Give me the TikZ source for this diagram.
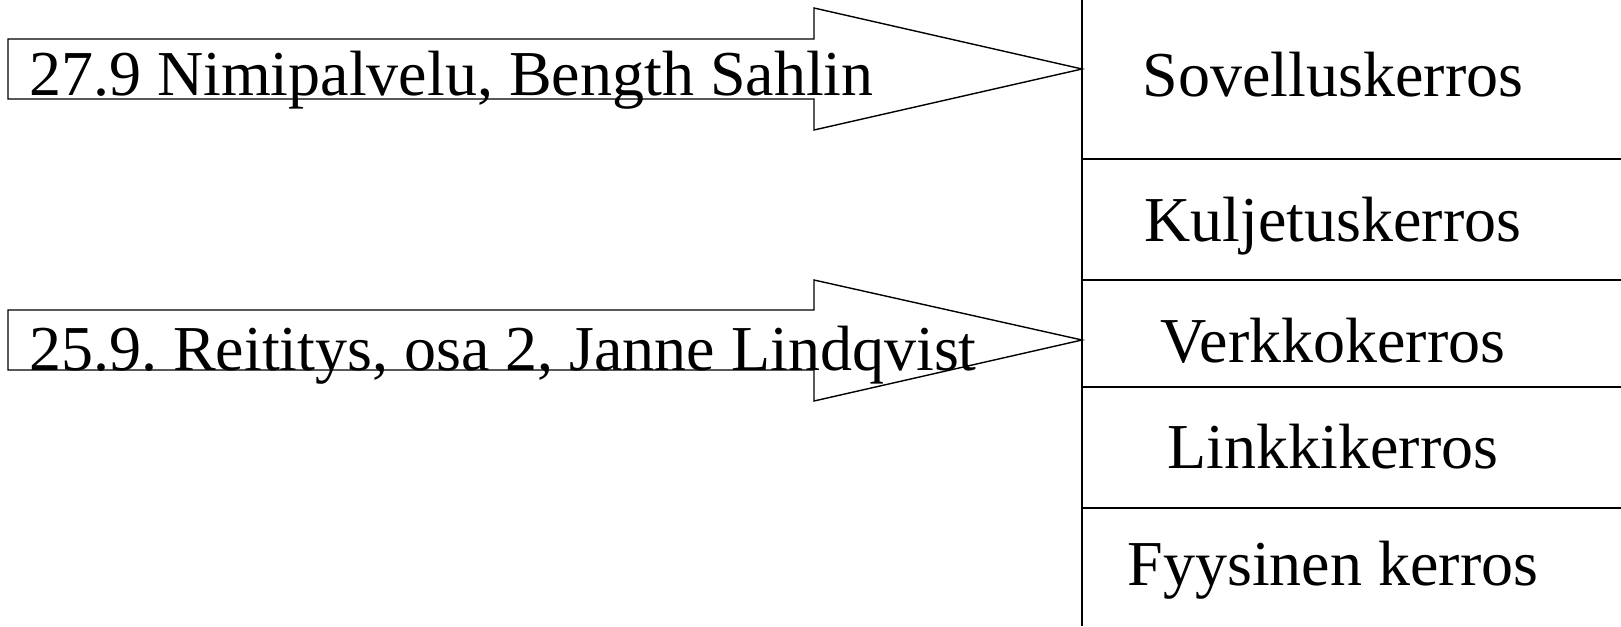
\documentclass[tikz,border=0pt]{standalone}
\usepackage{fontspec}
\setmainfont{Liberation Serif}
\frenchspacing
\begin{document}
\begin{tikzpicture}[x=1pt,y=-1pt,
  outline/.style={draw=black,line width=1.4pt},
  bigtext/.style={inner sep=0pt,font=\fontsize{64}{72}\selectfont},
  layertext/.style={bigtext,anchor=base},
  arrowtext/.style={bigtext,anchor=base west}]
\useasboundingbox (0,0) rectangle (1621,626);

% protocol stack: left border and layer separators
\coordinate (stacktop) at (1082,0);
\coordinate (stackbot) at (1082,626);
\draw[outline] (stacktop) -- (stackbot);
\foreach \yy in {159,280,387,508}
  \draw[outline] (1082,\yy) -- (1621,\yy);

\node[layertext] (app)  at (1333,96)  {Sovelluskerros};
\node[layertext] (tra)  at (1333,241) {Kuljetuskerros};
\node[layertext] (net)  at (1333,362) {Verkkokerros};
\node[layertext] (lnk)  at (1333,468) {Linkkikerros};
\node[layertext] (phy)  at (1333,585) {Fyysinen kerros};

% block arrows pointing at the stack
\coordinate (tipA) at (1082,69);
\coordinate (tipB) at (1082,340);
\draw[outline,fill=white] (8,39) -- (814,39) -- (814,8) -- (tipA)
  -- (814,130) -- (814,99) -- (8,99) -- cycle;
\draw[outline,fill=white] (8,310) -- (814,310) -- (814,280) -- (tipB)
  -- (814,401) -- (814,370) -- (8,370) -- cycle;

\node[arrowtext] (lecA) at (29,95)  {27.9 Nimipalvelu, Bength Sahlin};
\node[arrowtext] (lecB) at (29,370) {25.9. Reititys, osa 2, Janne Lindqvist};
\end{tikzpicture}
\end{document}
